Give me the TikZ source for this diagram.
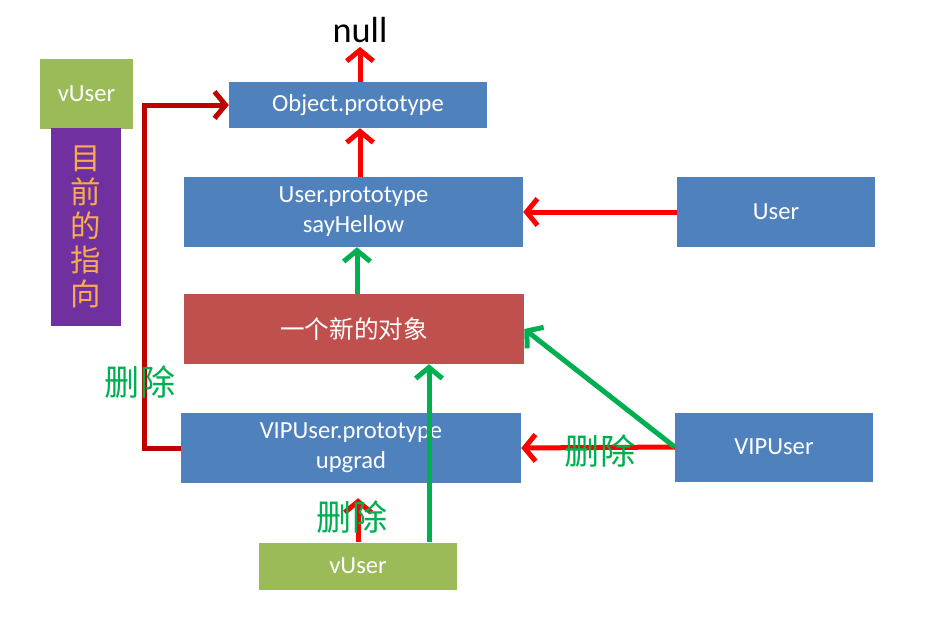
\documentclass[tikz,border=0pt]{standalone}
\usepackage{fontspec}
\setmainfont{Carlito}
\newfontfamily\cjk{Noto Sans CJK SC}
\usetikzlibrary{arrows.meta}
\definecolor{boxblue}{RGB}{79,129,189}
\definecolor{boxred}{RGB}{192,80,77}
\definecolor{boxgreen}{RGB}{155,187,89}
\definecolor{boxpurple}{RGB}{112,48,160}
\definecolor{tipred}{RGB}{255,0,0}
\definecolor{darkred}{RGB}{192,0,0}
\definecolor{delgreen}{RGB}{0,176,80}
\definecolor{textorange}{RGB}{247,170,80}

\begin{document}
\begin{tikzpicture}[x=0.3mm,y=-0.3mm,
    box/.style={fill=#1,text=white,align=center,inner sep=0pt,
      font=\fontsize{21}{25.5}\selectfont},
    redarr/.style={-{Straight Barb[length=3.3mm,width=8mm]},tipred,line width=1.5mm},
    greenarr/.style={-{Straight Barb[length=3.3mm,width=8mm]},delgreen,line width=1.5mm},
    dellabel/.style={delgreen,font=\cjk\fontsize{30}{30}\selectfont}]
        \useasboundingbox (0,0) rectangle (938,617);

        % Prototype chain
        \node (null) at (360,30) {\fontsize{31}{31}\selectfont null};
        \node[box=boxblue,minimum width=77.4mm,minimum height=13.8mm] (obj) at (358,105) {Object.prototype};
        \node[box=boxblue,minimum width=101.7mm,minimum height=21mm] (userproto) at (353.5,212) {User.prototype\\sayHellow};
        \node[box=boxred,minimum width=102mm,minimum height=21mm] (newobj) at (354,329) {\cjk 一个新的对象};
        \node[box=boxblue,minimum width=102mm,minimum height=21mm] (vipproto) at (351,448) {VIPUser.prototype\\upgrad};
        \node[box=boxgreen,minimum width=59.4mm,minimum height=14.1mm] (vuser) at (358,566) {vUser};

        % Constructors
        \node[box=boxblue,minimum width=59.4mm,minimum height=21mm] (user) at (776,212) {User};
        \node[box=boxblue,minimum width=59.4mm,minimum height=20.7mm] (vipuser) at (774,447) {VIPUser};

        % Current pointer
        \node[box=boxgreen,minimum width=27.9mm,minimum height=21mm] (vusertop) at (86.5,94) {vUser};
        \node[box=boxpurple,minimum width=21mm,minimum height=59.4mm,text=textorange,
          font=\cjk\fontsize{26}{29}\selectfont] (pointer) at (86,227) {目\\前\\的\\指\\向};

        % Red links
        \coordinate (rx) at (360,0);
        \draw[redarr] (obj.north -| rx) -- (null.south -| rx);
        \draw[redarr] (userproto.north -| rx) -- (obj.south -| rx);
        \draw[redarr] (user.west) -- (userproto.east);
        \draw[redarr] (vipuser.west) -- (vipproto.east);
        \draw[redarr,shorten >=4.5mm] (vuser.north) -- (vipproto.south -| vuser.north);
        \draw[-{Straight Barb[length=3.3mm,width=8mm]},darkred,line width=1.5mm]
          (vipproto.west) -- ++(-36,0) |- (obj.west);

        % Green links
        \coordinate (gx) at (429,0);
        \coordinate (gy) at (357,0);
        \draw[greenarr] (newobj.north -| gy) -- (userproto.south -| gy);
        \draw[greenarr] (vuser.north -| gx) -- (newobj.south -| gx);
        \draw[greenarr] (vipuser.west) -- (newobj.east);

        % Labels
        \node[dellabel] (del1) at (140,382) {删除};
        \node[dellabel] (del2) at (352,517) {删除};
        \node[dellabel] (del3) at (600,451) {删除};
\end{tikzpicture}
\end{document}
